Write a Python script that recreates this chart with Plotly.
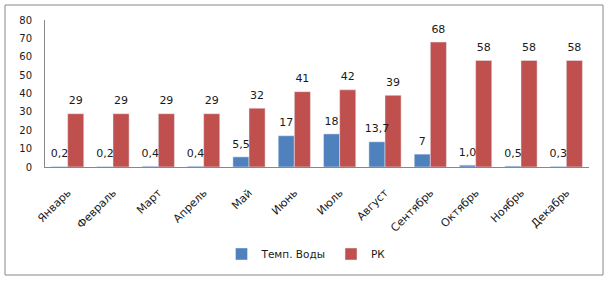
import plotly.graph_objects as go

months = ["Январь", "Февраль", "Март", "Апрель", "Май", "Июнь", "Июль",
          "Август", "Сентябрь", "Октябрь", "Ноябрь", "Декабрь"]
water_temp = [0.2, 0.2, 0.4, 0.4, 5.5, 17, 18, 13.7, 7, 1.0, 0.5, 0.3]
water_labels = ["0,2", "0,2", "0,4", "0,4", "5,5", "17", "18", "13,7", "7", "1,0", "0,5", "0,3"]
rk = [29, 29, 29, 29, 32, 41, 42, 39, 68, 58, 58, 58]
rk_labels = [str(v) for v in rk]

font = "DejaVu Sans"
tcolor = "#1a1a1a"
fig = go.Figure()
fig.add_trace(go.Bar(x=months, y=water_temp, name="Темп. Воды", marker_color="#4F81BD"))
fig.add_trace(go.Bar(x=months, y=rk, name="РК", marker_color="#C0504D"))
for vals, labels in [(water_temp, water_labels), (rk, rk_labels)]:
    fig.add_trace(go.Scatter(x=months, y=vals, text=labels, mode="markers+text",
                             textposition="top center", cliponaxis=False,
                             marker=dict(size=9, opacity=0), showlegend=False,
                             hoverinfo="skip",
                             textfont=dict(size=11, color=tcolor, family=font)))

L, R, T, B = 45, 589, 20, 167
W, H = R - L, B - T
def px(x):
    return (x - L) / W
def py(y):
    return (B - y) / H

fig.update_layout(
    width=609, height=281,
    margin=dict(l=L, r=609 - R, t=T, b=281 - B, autoexpand=False),
    barmode="group", bargap=0.29, bargroupgap=0,
    scattermode="group", scattergap=0.29,
    plot_bgcolor="white", paper_bgcolor="white",
    font=dict(family=font, size=10, color=tcolor),
    showlegend=True,
    legend=dict(orientation="h", x=px(306), y=py(254), xanchor="center", yanchor="middle",
                font=dict(size=10.5, family=font, color=tcolor), itemwidth=30),
    xaxis=dict(showline=True, linecolor="#888888", linewidth=1, tickangle=-45,
               tickfont=dict(size=11, family=font), showgrid=False, automargin=False,
               ticklabelstandoff=14),
    yaxis=dict(range=[0, 80], dtick=10, showline=True, linecolor="#888888", linewidth=1,
               showgrid=False, zeroline=False, tickfont=dict(size=10, family=font),
               automargin=False, ticklabelstandoff=10),
    shapes=[dict(type="rect", xref="paper", yref="paper",
                 x0=px(5), x1=px(603), y0=py(275), y1=py(5),
                 line=dict(color="#888888", width=1))],
)
fig.write_html("out.html", config={"displayModeBar": False},
               post_script="document.body.style.margin='0';")
